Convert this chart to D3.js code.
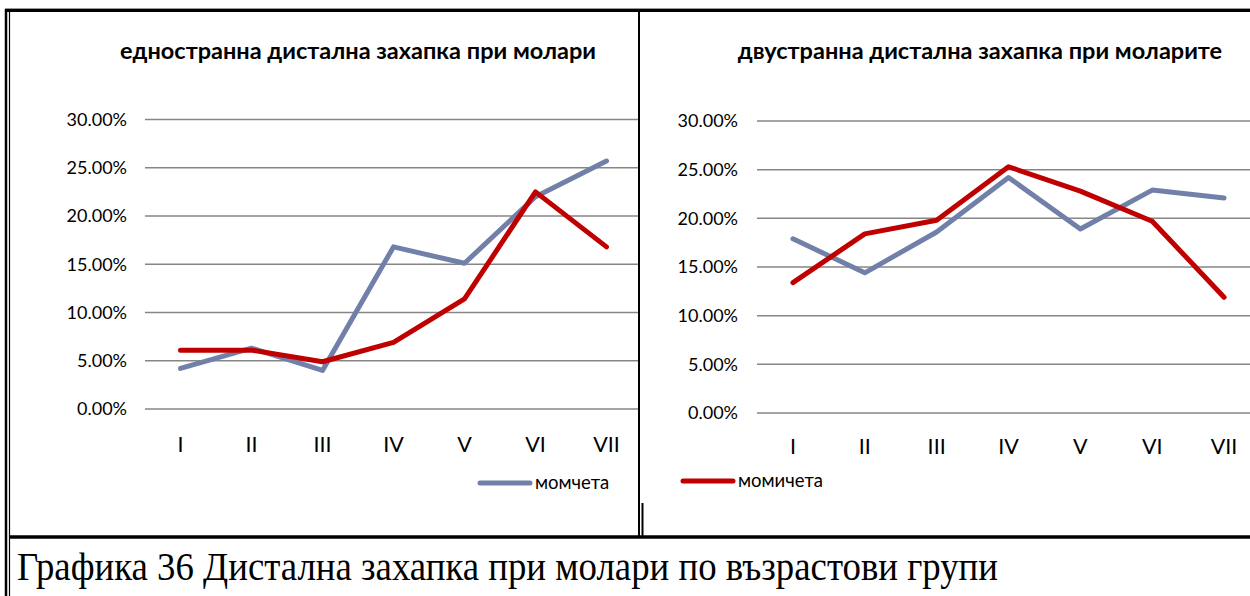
<!DOCTYPE html>
<html>
<head>
<meta charset="utf-8">
<script src="https://cdn.jsdelivr.net/npm/d3@7"></script>
<style>
  html, body { margin: 0; padding: 0; background: #fff; }
  svg { display: block; }
</style>
</head>
<body>
<svg id="fig" width="1250" height="596"></svg>
<script>
// Age groups
const categories = ["I", "II", "III", "IV", "V", "VI", "VII"];
// Unilateral distal occlusion at the molars, % per age group
const boysUnilateral  = [4.2, 6.3, 4.0, 16.8, 15.1, 22.0, 25.7];
const girlsUnilateral = [6.1, 6.1, 4.9, 6.9, 11.4, 22.5, 16.8];
// Bilateral distal occlusion at the molars, % per age group
const boysBilateral   = [17.9, 14.4, 18.6, 24.2, 18.9, 22.9, 22.1];
const girlsBilateral  = [13.4, 18.4, 19.8, 25.3, 22.8, 19.7, 11.9];
const yTicks = [0, 5, 10, 15, 20, 25, 30];
const titles = ["едностранна дистална захапка при молари", "двустранна дистална захапка при моларите"];
const seriesNames = ["момчета", "момичета"];
const caption = "Графика 36 Дистална захапка при молари по възрастови групи";

const BLUE = "#7180a8";
const RED = "#c00000";
const GRID = "#868686";
const FONT = "Lato, 'Open Sans', sans-serif";

const svg = d3.select("#fig");

function drawChart(cfg) {
  const g = svg.append("g");
  const x = d3.scaleBand().domain(categories).range([cfg.x0, cfg.x1]);
  const y = d3.scaleLinear().domain([0, 30]).range([cfg.yBottom, cfg.yTop]);

  // horizontal gridlines
  g.append("g").selectAll("line").data(yTicks).join("line")
    .attr("x1", cfg.x0).attr("x2", cfg.gridEnd)
    .attr("y1", d => y(d)).attr("y2", d => y(d))
    .attr("stroke", GRID).attr("stroke-width", 1.5);

  // value axis labels
  g.append("g").selectAll("text").data(yTicks).join("text")
    .attr("x", cfg.labelRight).attr("y", d => y(d))
    .attr("dy", "0.35em").attr("text-anchor", "end")
    .attr("font-family", FONT).attr("font-size", 18).attr("fill", "#000")
    .text(d => d3.format(".2f")(d) + "%");

  // category labels
  g.append("g").selectAll("text").data(categories).join("text")
    .attr("x", d => x(d) + x.bandwidth() / 2).attr("y", cfg.catY)
    .attr("text-anchor", "middle")
    .attr("font-family", FONT).attr("font-size", 21.5).attr("fill", "#000")
    .text(d => d);

  // title
  g.append("text")
    .attr("x", cfg.titleX).attr("y", 59).attr("text-anchor", "middle")
    .attr("font-family", FONT).attr("font-weight", "bold").attr("font-size", 23.5)
    .text(cfg.title);

  const line = d3.line()
    .x((d, i) => x(categories[i]) + x.bandwidth() / 2)
    .y(d => y(d));

  [[cfg.boys, BLUE], [cfg.girls, RED]].forEach(([vals, col]) => {
    g.append("path").datum(vals)
      .attr("d", line).attr("fill", "none")
      .attr("stroke", col).attr("stroke-width", 5)
      .attr("stroke-linejoin", "round").attr("stroke-linecap", "round");
  });

  // legend (single visible entry)
  const lg = g.append("g").attr("transform", `translate(${cfg.legendX},${cfg.legendY})`);
  lg.append("line").attr("x1", 0).attr("x2", 50).attr("y1", 0).attr("y2", 0)
    .attr("stroke", cfg.legendColor).attr("stroke-width", 5).attr("stroke-linecap", "round");
  lg.append("text").attr("x", 55).attr("y", 0).attr("dy", "0.35em")
    .attr("font-family", FONT).attr("font-size", 18.5).text(cfg.legendName);
}

drawChart({
  x0: 145, x1: 642, gridEnd: 638, yTop: 119.5, yBottom: 409,
  labelRight: 127, catY: 452, titleX: 358, title: titles[0],
  boys: boysUnilateral, girls: girlsUnilateral,
  legendX: 480, legendY: 483, legendColor: BLUE, legendName: seriesNames[0]
});

drawChart({
  x0: 757, x1: 1260, gridEnd: 1250, yTop: 121, yBottom: 413,
  labelRight: 738, catY: 454, titleX: 980, title: titles[1],
  boys: boysBilateral, girls: girlsBilateral,
  legendX: 683, legendY: 481, legendColor: RED, legendName: seriesNames[1]
});

// table frame around the figures
const frame = svg.append("g").attr("stroke", "#000").attr("fill", "none");
svg.append("line").attr("x1", 5).attr("x2", 1250).attr("y1", 8.5).attr("y2", 8.5)
  .attr("stroke", "#9a9a9a").attr("stroke-width", 1);
frame.append("line").attr("x1", 5).attr("x2", 1250).attr("y1", 10.5).attr("y2", 10.5).attr("stroke-width", 3);
frame.append("line").attr("x1", 6).attr("x2", 6).attr("y1", 9).attr("y2", 596).attr("stroke-width", 2.5);
frame.append("line").attr("x1", 9.5).attr("x2", 9.5).attr("y1", 12).attr("y2", 596).attr("stroke-width", 1.2);
frame.append("line").attr("x1", 639).attr("x2", 639).attr("y1", 10).attr("y2", 537).attr("stroke-width", 2);
frame.append("line").attr("x1", 642.5).attr("x2", 642.5).attr("y1", 503).attr("y2", 537).attr("stroke-width", 2);
frame.append("line").attr("x1", 9).attr("x2", 1250).attr("y1", 537).attr("y2", 537).attr("stroke-width", 3.5);

// caption
const cap = svg.append("text")
  .attr("x", 17).attr("y", 580)
  .attr("font-family", "'Liberation Serif', 'Times New Roman', serif")
  .attr("font-size", 40).attr("fill", "#000")
  .text(caption);
cap.attr("textLength", 981).attr("lengthAdjust", "spacingAndGlyphs");
</script>
</body>
</html>
